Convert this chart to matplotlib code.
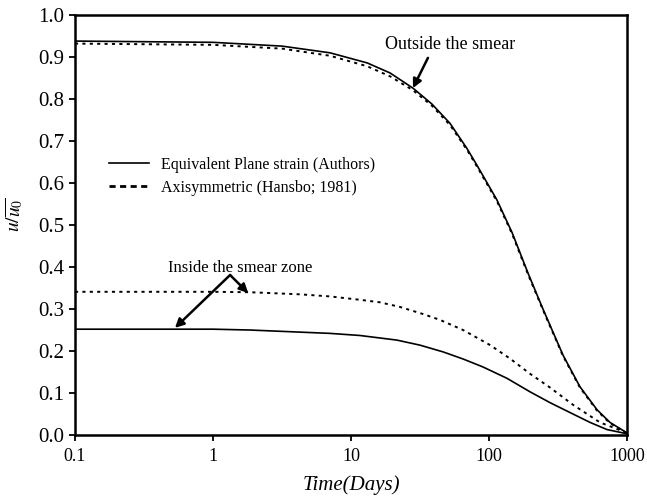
import matplotlib
matplotlib.use("Agg")
import matplotlib.pyplot as plt
from matplotlib.lines import Line2D
from matplotlib.ticker import FixedLocator, FixedFormatter

plt.rcParams['font.family'] = ['Liberation Serif', 'DejaVu Serif']
plt.rcParams['mathtext.fontset'] = 'stix'

# outside the smear zone
t_out = [0.1, 1, 3.16, 7.05, 13.1, 19.2, 28.1, 38.6, 52.2, 69.3, 81.9, 114, 147, 192, 246,
         344, 456, 607, 753, 1000]
u_out_ps = [0.938, 0.935, 0.926, 0.910, 0.886, 0.862, 0.826, 0.788, 0.742, 0.682, 0.642, 0.560,
            0.482, 0.385, 0.300, 0.190, 0.115, 0.060, 0.030, 0.005]
u_out_ax = [0.932, 0.929, 0.920, 0.903, 0.878, 0.854, 0.821, 0.784, 0.738, 0.679, 0.639, 0.557,
            0.479, 0.382, 0.298, 0.188, 0.113, 0.058, 0.028, 0.004]

# inside the smear zone
t_in_ps = [0.1, 1, 1.85, 4.27, 7.05, 11.6, 21.5, 31.6, 46.4, 64.9, 90.5, 135, 198, 277, 406,
           540, 716, 1000]
u_in_ps = [0.252, 0.252, 0.250, 0.245, 0.242, 0.237, 0.226, 0.214, 0.198, 0.181, 0.162, 0.135,
           0.103, 0.077, 0.050, 0.030, 0.013, 0.003]
t_in_ax = [0.1, 1, 1.85, 4.27, 7.05, 11.6, 16.2, 22.6, 33.3, 44.2, 64.9, 102, 142, 198, 277,
           406, 637, 1000]
u_in_ax = [0.341, 0.341, 0.340, 0.335, 0.330, 0.322, 0.316, 0.305, 0.288, 0.274, 0.250, 0.214,
           0.182, 0.146, 0.113, 0.072, 0.030, 0.005]

series_names = ['Equivalent Plane strain (Authors)', 'Axisymmetric (Hansbo; 1981)']

xticks = [0.1, 1, 10, 100, 1000]
xtick_labels = ['0.1', '1', '10', '100', '1000']
yticks = [0.0, 0.1, 0.2, 0.3, 0.4, 0.5, 0.6, 0.7, 0.8, 0.9, 1.0]

fig = plt.figure(figsize=(6.47, 5.01), dpi=100)
ax = fig.add_axes([0.1159, 0.1317, 0.8532, 0.8383])

dots = (0, (1.6, 2.2))
ax.plot(t_out, u_out_ps, color='black', lw=1.2)
ax.plot(t_out, u_out_ax, color='black', lw=1.4, ls=dots)
ax.plot(t_in_ps, u_in_ps, color='black', lw=1.2)
ax.plot(t_in_ax, u_in_ax, color='black', lw=1.4, ls=dots)

ax.set_xscale('log')
ax.set_xlim(0.1, 1000)
ax.set_ylim(0, 1.0)
ax.xaxis.set_major_locator(FixedLocator(xticks))
ax.xaxis.set_major_formatter(FixedFormatter(xtick_labels))
ax.xaxis.set_minor_locator(FixedLocator([]))
ax.set_yticks(yticks)
ax.set_yticklabels(['%.1f' % v for v in yticks])
ax.tick_params(direction='out', length=4, width=1.3, pad=5)
ax.tick_params(axis='x', labelsize=13)
ax.tick_params(axis='y', labelsize=15, pad=4)

for s in ax.spines.values():
    s.set_linewidth(1.8)

ax.set_xlabel('Time(Days)', fontsize=15, style='italic', labelpad=8)
fig.text(15 / 647, 1 - 215 / 501, r'$u/\overline{u_0}$', fontsize=14, rotation=90,
         ha='center', va='center')

# legend keys: the dashed key is heavier than the plotted dots
handles = [Line2D([], [], color='black', lw=1.2),
           Line2D([], [], color='black', lw=2.0, ls=(0, (2.2, 1.6)))]
ax.legend(handles, series_names, loc='upper left', bbox_to_anchor=(0.035, 0.697),
          frameon=False, fontsize=11.5, handlelength=2.5, handletextpad=0.75,
          labelspacing=0.45)

arrow = dict(arrowstyle='-|>', color='black', lw=1.8, mutation_scale=13, shrinkA=0, shrinkB=0)

# labels and arrows
ax.text(52.2, 0.929, 'Outside the smear', fontsize=13, ha='center', va='center')
ax.annotate('', xy=(28.1, 0.826), xytext=(36.1, 0.898), arrowprops=arrow)

ax.text(1.57, 0.398, 'Inside the smear zone', fontsize=12, ha='center', va='center')
ax.annotate('', xy=(0.53, 0.255), xytext=(1.33, 0.381), arrowprops=arrow)
ax.annotate('', xy=(1.8, 0.338), xytext=(1.33, 0.381), arrowprops=arrow)

fig.savefig('out.png', dpi=100)
